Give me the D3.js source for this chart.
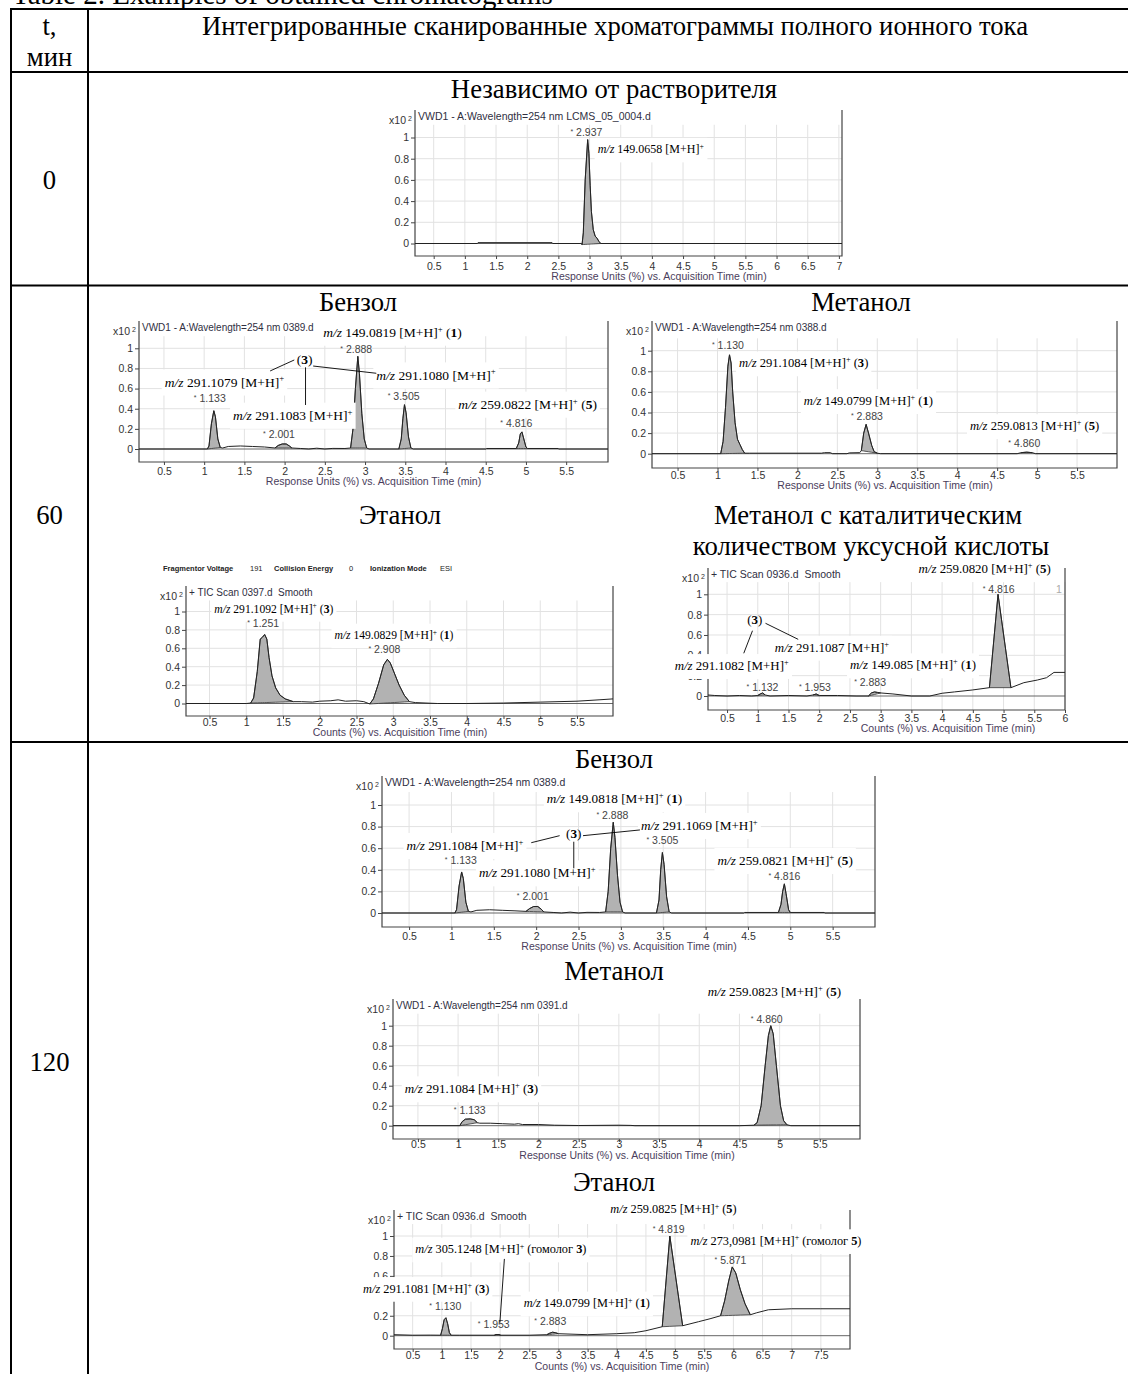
<!DOCTYPE html>
<html><head><meta charset="utf-8">
<script src="https://cdn.jsdelivr.net/npm/d3@7"></script>
<style>body{margin:0;background:#fff;}svg{display:block;}text{white-space:pre;}</style>
</head><body>
<script>
// ---------------- DATA ----------------
const yTicks = [0, 0.2, 0.4, 0.6, 0.8, 1];
const xTicks7 = [0.5,1,1.5,2,2.5,3,3.5,4,4.5,5,5.5,6,6.5,7];
const xTicks55 = [0.5,1,1.5,2,2.5,3,3.5,4,4.5,5,5.5];
const xTicks6 = [0.5,1,1.5,2,2.5,3,3.5,4,4.5,5,5.5,6];
const xTicks75 = [0.5,1,1.5,2,2.5,3,3.5,4,4.5,5,5.5,6,6.5,7,7.5];

const rowLabels = ["0", "60", "120"];
const headerLabels = ["t,", "мин", "Интегрированные сканированные хроматограммы полного ионного тока"];

// Row 0 — independent of solvent
const traceA = [[0.2,0],[1.2,0],[1.21,0.008],[2.4,0.008],[2.41,0],[2.86,0],[2.88,-0.01],[2.9,0.1],[2.93,0.6],[2.97,0.98],[2.99,0.85],[3.01,0.55],[3.03,0.3],[3.06,0.13],[3.09,0.07],[3.12,0.05],[3.15,0.02],[3.18,0],[7.05,0]];
const peaksA = [[2.88,3.18]];
const peakLabelsA = [{text:"2.937", t:2.95, v:1.014}];
const notesA = [{mz:"149.0658", t:3.13, v:0.85}];

// Row 60 — benzene
const traceB = [[0.19,0],[1.04,0],[1.06,0.03],[1.09,0.25],[1.12,0.38],[1.14,0.32],[1.17,0.1],[1.2,0.015],[1.23,0.01],[1.3,0.025],[1.45,0.03],[1.6,0.025],[1.75,0.02],[1.88,0.01],[1.92,0.035],[1.97,0.05],[2.02,0.05],[2.06,0.03],[2.09,0.01],[2.2,0.005],[2.3,0],[2.4,0.008],[2.5,0],[2.6,0.006],[2.75,0.005],[2.82,0.01],[2.85,0.2],[2.88,0.6],[2.91,0.92],[2.93,0.75],[2.96,0.35],[2.99,0.1],[3.02,0.01],[3.05,0],[3.42,0],[3.45,0.1],[3.47,0.3],[3.49,0.44],[3.51,0.36],[3.54,0.12],[3.57,0.01],[3.6,0],[4.5,0],[4.51,0.005],[4.88,0.005],[4.91,0.06],[4.93,0.15],[4.95,0.17],[4.97,0.11],[5.0,0.02],[5.02,0.005],[5.4,0.005],[5.41,0],[6.02,0]];
const peaksB = [[1.04,1.2],[1.88,2.09],[2.82,3.02],[3.42,3.57],[4.88,5.02]];
const peakLabelsB = [{text:"1.133",t:1.07,v:0.47},{text:"2.001",t:1.93,v:0.106},{text:"2.888",t:2.89,v:0.95},{text:"3.505",t:3.48,v:0.487},{text:"4.816",t:4.88,v:0.215}];
const notesB = [{mz:"149.0819",id:"1",t:2.48,v:1.115},{id:"3",t:2.25,v:0.844,mid:true},{mz:"291.1079",t:0.51,v:0.62},{mz:"291.1080",t:3.14,v:0.69},{mz:"291.1083",t:1.36,v:0.29},{mz:"259.0822",id:"5",t:4.16,v:0.40}];
const leadersB = [[[2.12,0.884],[1.82,0.775]],[[2.355,0.824],[3.14,0.752]],[[2.26,0.811],[2.26,0.437]]];

// Row 60 — methanol
const traceC = [[0.18,0],[1.04,0],[1.07,0.12],[1.1,0.45],[1.13,0.85],[1.15,0.96],[1.17,0.88],[1.19,0.6],[1.22,0.3],[1.25,0.14],[1.28,0.09],[1.31,0.04],[1.34,0.005],[1.4,0.005],[2.3,0.005],[2.34,0.01],[2.41,0.01],[2.44,0],[2.62,0],[2.65,0.008],[2.78,0.01],[2.8,0.03],[2.83,0.2],[2.86,0.285],[2.89,0.2],[2.93,0.08],[2.96,0.02],[3.0,0.005],[3.04,0],[4.75,0],[4.8,0.01],[4.87,0.015],[4.94,0.01],[4.98,0],[6.0,0]];
const peaksC = [[1.04,1.34],[2.8,3.0],[4.8,4.94]];
const peakLabelsC = [{text:"1.130",t:1.13,v:1.017},{text:"2.883",t:2.87,v:0.327},{text:"4.860",t:4.84,v:0.062}];
const notesC = [{mz:"291.1084",id:"3",t:1.27,v:0.839},{mz:"149.0799",id:"1",t:2.08,v:0.473},{mz:"259.0813",id:"5",t:4.16,v:0.23}];

// Row 60 — ethanol
const traceD = [[0.18,0],[1.0,0],[1.06,0.005],[1.1,0.06],[1.15,0.35],[1.19,0.7],[1.22,0.72],[1.25,0.75],[1.28,0.7],[1.31,0.5],[1.35,0.3],[1.4,0.17],[1.46,0.09],[1.53,0.05],[1.64,0.02],[1.75,0.02],[1.9,0.015],[2.0,0.025],[2.15,0.03],[2.25,0.04],[2.35,0.025],[2.5,0.03],[2.6,0.02],[2.68,-0.005],[2.73,0.05],[2.8,0.22],[2.87,0.42],[2.92,0.48],[2.96,0.44],[3.02,0.32],[3.08,0.2],[3.15,0.09],[3.22,0.02],[3.3,0.01],[3.6,0],[4.0,0],[4.5,0.005],[5.0,0.015],[5.5,0.025],[5.8,0.04],[5.99,0.05]];
const peaksD = [[1.06,1.64],[2.68,3.22]];
const peakLabelsD = [{text:"1.251",t:1.23,v:0.835},{text:"2.908",t:2.88,v:0.545}];
const notesD = [{mz:"291.1092",id:"3",t:0.565,v:0.987},{mz:"149.0829",id:"1",t:2.2,v:0.7}];
const methodD = [["Fragmentor Voltage",true],["191",false],["Collision Energy",true],["0",false],["Ionization Mode",true],["ESI",false]];

// Row 60 — methanol + acetic acid
const traceE = [[0.19,0.01],[0.3,0.005],[0.5,0],[0.7,0.005],[0.9,0],[1.0,0.005],[1.04,0.02],[1.08,0.03],[1.12,0.01],[1.2,0],[1.5,0.005],[1.8,0],[1.9,0.01],[1.95,0.02],[2.0,0.005],[2.3,0.005],[2.6,0],[2.8,0],[2.85,0.03],[2.9,0.04],[2.95,0.035],[3.0,0.03],[3.2,0.02],[3.5,0],[3.8,0],[4.0,0.027],[4.2,0.04],[4.49,0.059],[4.77,0.082],[4.91,1.0],[5.12,0.082],[5.33,0.131],[5.55,0.157],[5.7,0.18],[5.82,0.232],[6.0,0.232]];
const peaksE = [[1.0,1.12],[1.9,2.0],[2.8,3.0],[4.77,5.12]];
const peakLabelsE = [{text:"4.816",t:4.92,v:1.016},{text:"1.132",t:1.077,v:0.052},{text:"1.953",t:1.93,v:0.052},{text:"2.883",t:2.828,v:0.098}];
const notesE = [{mz:"259.0820",id:"5",t:3.616,v:1.21},{id:"3",t:0.952,v:0.708,mid:true},{mz:"291.1087",t:1.278,v:0.436},{mz:"291.1082",t:-0.353,v:0.256},{mz:"149.085",id:"1",t:2.502,v:0.263}];
const leadersE = [[[1.126,0.715],[1.658,0.557]],[[0.914,0.642],[0.772,0.42]]];
const markE = [{text:"1",t:5.9,v:1.016}];

// Row 120 — benzene
const traceF = [[0.18,0],[1.04,0],[1.06,0.03],[1.09,0.25],[1.12,0.38],[1.14,0.32],[1.17,0.1],[1.2,0.015],[1.23,0.01],[1.3,0.025],[1.45,0.03],[1.6,0.025],[1.75,0.02],[1.88,0.015],[1.92,0.04],[1.97,0.06],[2.02,0.06],[2.06,0.035],[2.09,0.01],[2.2,0.005],[2.3,0],[2.4,0.008],[2.5,0],[2.6,0.006],[2.75,0.005],[2.82,0.01],[2.85,0.2],[2.88,0.6],[2.91,0.84],[2.93,0.7],[2.96,0.35],[2.99,0.1],[3.02,0.01],[3.05,0],[3.42,0],[3.45,0.12],[3.47,0.4],[3.49,0.56],[3.51,0.45],[3.54,0.15],[3.57,0.01],[3.6,0],[4.45,0],[4.46,0.005],[4.86,0.005],[4.89,0.08],[4.91,0.2],[4.93,0.27],[4.95,0.18],[4.98,0.03],[5.0,0.005],[5.4,0.005],[5.41,0],[6.0,0]];
const peaksF = [[1.04,1.2],[1.88,2.09],[2.82,3.02],[3.42,3.57],[4.86,5.0]];
const peakLabelsF = [{text:"1.133",t:1.11,v:0.454},{text:"2.001",t:1.96,v:0.12},{text:"2.888",t:2.9,v:0.87},{text:"3.505",t:3.49,v:0.636},{text:"4.816",t:4.93,v:0.305}];
const notesF = [{mz:"149.0818",id:"1",t:2.126,v:1.016},{mz:"291.1069",t:3.237,v:0.769},{id:"3",t:2.444,v:0.697,mid:true},{mz:"291.1084",t:0.47,v:0.583},{mz:"259.0821",id:"5",t:4.14,v:0.444},{mz:"291.1080",t:1.324,v:0.33}];
const leadersF = [[[2.277,0.716],[1.942,0.651]],[[2.553,0.716],[3.225,0.769]],[[2.444,0.66],[2.444,0.414]]];

// Row 120 — methanol
const traceG = [[0.19,0],[1.02,0],[1.05,0.04],[1.09,0.065],[1.15,0.068],[1.2,0.06],[1.24,0.03],[1.27,0.025],[1.4,0.025],[1.55,0.02],[1.7,0.015],[1.75,0.02],[1.8,0.012],[2.0,0.012],[2.2,0.005],[2.5,0.002],[3.0,0.005],[3.15,0.003],[3.2,0],[4.5,0],[4.68,0.005],[4.72,0.03],[4.77,0.2],[4.82,0.6],[4.86,0.9],[4.89,1.0],[4.92,0.92],[4.96,0.6],[5.01,0.2],[5.05,0.05],[5.09,0.01],[5.14,0],[6.0,0]];
const peaksG = [[1.02,1.24],[4.68,5.09]];
const peakLabelsG = [{text:"4.860",t:4.84,v:1.03},{text:"1.133",t:1.145,v:0.117}];
const notesG = [{mz:"259.0823",id:"5",t:4.105,v:1.297},{mz:"291.1084",id:"3",t:0.336,v:0.324}];

// Row 120 — ethanol
const traceH = [[0.18,0.01],[0.5,0.005],[0.8,0.006],[0.98,0.005],[1.01,0.07],[1.04,0.16],[1.07,0.18],[1.1,0.12],[1.13,0.03],[1.16,0.005],[1.3,0.005],[1.9,0.005],[1.93,0.012],[1.98,0.012],[2.01,0.005],[2.5,0.005],[2.8,0.01],[2.85,0.025],[2.9,0.035],[2.95,0.03],[3.0,0.02],[3.5,0.01],[4.0,0.02],[4.3,0.03],[4.5,0.05],[4.78,0.09],[4.91,1.0],[5.13,0.1],[5.4,0.14],[5.6,0.17],[5.78,0.2],[5.85,0.35],[5.92,0.55],[5.98,0.69],[6.04,0.63],[6.12,0.46],[6.2,0.32],[6.29,0.21],[6.4,0.23],[6.6,0.26],[7.0,0.27],[7.5,0.27],[8.0,0.27]];
const peaksH = [[0.98,1.16],[1.9,2.01],[2.8,3.0],[4.78,5.13],[5.78,6.29]];
const peakLabelsH = [{text:"4.819",t:4.89,v:1.027},{text:"5.871",t:5.95,v:0.716},{text:"1.130",t:1.06,v:0.258},{text:"1.953",t:1.89,v:0.074},{text:"2.883",t:2.86,v:0.107}];
const notesH = [{mz:"259.0825",id:"5",t:3.89,v:1.228},{mz:"273,0981",id:"5",hom:true,t:5.263,v:0.91},{mz:"305.1248",id:"3",hom:true,t:0.546,v:0.826},{mz:"291.1081",id:"3",t:-0.35,v:0.431},{mz:"149.0799",id:"1",t:2.404,v:0.285}];
const leadersH = [[[2.073,0.77],[1.996,0.132]]];

// ---------------- LAYOUT / STYLE ----------------
const SERIF = "'Liberation Serif','Times New Roman',serif";
const SANS = "'Liberation Sans',Arial,sans-serif";
const RESP = "Response Units (%) vs. Acquisition Time (min)";
const COUNTS = "Counts (%) vs. Acquisition Time (min)";
const TITLE_FS = 26.7;

const panels = [
 {left:415,right:842,top:110,bottom:256,xd:[0.2,7.05],y0:243.5,y1:137.5,tickBase:269.5,titleBase:280,titleCx:659,fs:12,hfs:10.5,xTicks:xTicks7,header:"VWD1 - A:Wavelength=254 nm LCMS_05_0004.d",axisTitle:RESP,trace:traceA,peaks:peaksA,peakLabels:peakLabelsA,notes:notesA},
 {left:139,right:608,top:321,bottom:462,xd:[0.19,6.02],y0:449,y1:348.3,tickBase:475,titleBase:485,titleCx:373.5,fs:13.5,hfs:10,xTicks:xTicks55,header:"VWD1 - A:Wavelength=254 nm 0389.d",axisTitle:RESP,trace:traceB,peaks:peaksB,peakLabels:peakLabelsB,notes:notesB,leaders:leadersB},
 {left:652,right:1117,top:321,bottom:468,xd:[0.18,6.0],y0:453.7,y1:350.7,tickBase:479,titleBase:489,titleCx:885,fs:12.6,hfs:10,xTicks:xTicks55,header:"VWD1 - A:Wavelength=254 nm 0388.d",axisTitle:RESP,trace:traceC,peaks:peaksC,peakLabels:peakLabelsC,notes:notesC},
 {left:186,right:613,top:586,bottom:716,xd:[0.18,5.99],y0:703.5,y1:611.5,tickBase:726,titleBase:736,titleCx:400,fs:11.6,hfs:10,xTicks:xTicks55,header:"+ TIC Scan 0397.d  Smooth",axisTitle:COUNTS,trace:traceD,peaks:peaksD,peakLabels:peakLabelsD,notes:notesD},
 {left:708,right:1065,top:568,bottom:710,xd:[0.19,6.0],y0:696,y1:594.3,tickBase:722,titleBase:732,titleCx:948,fs:12.9,hfs:10.5,xTicks:xTicks6,header:"+ TIC Scan 0936.d  Smooth",axisTitle:COUNTS,trace:traceE,peaks:peaksE,peakLabels:peakLabelsE,notes:notesE,leaders:leadersE,marks:markE},
 {left:382,right:875,top:776,bottom:927,xd:[0.18,6.0],y0:913,y1:805,tickBase:940,titleBase:950,titleCx:629,fs:13.2,hfs:10.5,xTicks:xTicks55,header:"VWD1 - A:Wavelength=254 nm 0389.d",axisTitle:RESP,trace:traceF,peaks:peaksF,peakLabels:peakLabelsF,notes:notesF,leaders:leadersF},
 {left:393,right:860,top:999,bottom:1139,xd:[0.19,6.0],y0:1125.7,y1:1025.7,tickBase:1148,titleBase:1158.5,titleCx:627,fs:13,hfs:10,xTicks:xTicks55,header:"VWD1 - A:Wavelength=254 nm 0391.d",axisTitle:RESP,trace:traceG,peaks:peaksG,peakLabels:peakLabelsG,notes:notesG},
 {left:394,right:850,top:1210,bottom:1349,xd:[0.18,8.0],y0:1335.7,y1:1236,tickBase:1359,titleBase:1370,titleCx:622,fs:12.3,hfs:10.5,xTicks:xTicks75,header:"+ TIC Scan 0936.d  Smooth",axisTitle:COUNTS,trace:traceH,peaks:peaksH,peakLabels:peakLabelsH,notes:notesH,leaders:leadersH}
];

const W = 1128, H = 1374;
const svg = d3.select("body").append("svg").attr("width", W).attr("height", H);
svg.append("rect").attr("width", W).attr("height", H).attr("fill", "#fff");

// ---------------- TABLE ----------------
const tbl = svg.append("g");
tbl.append("text").attr("x", 12).attr("y", 4).attr("font-family", SERIF).attr("font-size", 29)
  .text("Table 2. Examples of obtained chromatograms");
[[10,9,1128,9],[10,72,1128,72],[10,285.5,1128,285.5],[10,742,1128,742],[11,8,11,1374],[88,9,88,1374]].forEach(l => {
  tbl.append("line").attr("x1", l[0]).attr("y1", l[1]).attr("x2", l[2]).attr("y2", l[3]).attr("stroke", "#000").attr("stroke-width", 2);
});
const serifText = (x, y, s, anchor="middle") => tbl.append("text").attr("x", x).attr("y", y).attr("text-anchor", anchor)
  .attr("font-family", SERIF).attr("font-size", TITLE_FS).attr("fill", "#000").text(s);
serifText(49.5, 35, headerLabels[0]);
serifText(49.5, 66, headerLabels[1]);
serifText(615, 35, headerLabels[2]);
serifText(49.5, 189, rowLabels[0]);
serifText(49.5, 524, rowLabels[1]);
serifText(49.5, 1071, rowLabels[2]);
serifText(614, 98, "Независимо от растворителя");
serifText(358, 311, "Бензол");
serifText(861, 311, "Метанол");
serifText(400, 524, "Этанол");
serifText(868, 524, "Метанол с каталитическим");
serifText(871, 555, "количеством уксусной кислоты");
serifText(614, 768, "Бензол");
serifText(614, 980, "Метанол");
serifText(614, 1191, "Этанол");

// ---------------- PANELS ----------------
function interp(trace, t) {
  const i = d3.bisector(d => d[0]).left(trace, t);
  if (i <= 0) return trace[0][1];
  if (i >= trace.length) return trace[trace.length-1][1];
  const a = trace[i-1], b = trace[i];
  if (b[0] === t) return b[1];
  return a[1] + (b[1]-a[1]) * (t-a[0]) / (b[0]-a[0]);
}

function drawPanel(p) {
  const g = svg.append("g");
  const x = d3.scaleLinear().domain(p.xd).range([p.left, p.right]);
  const y = d3.scaleLinear().domain([0, 1]).range([p.y0, p.y1]);

  // grid
  g.append("g").selectAll("line").data(p.xTicks).join("line")
    .attr("x1", d => x(d)).attr("x2", d => x(d)).attr("y1", y(1.12)).attr("y2", p.bottom)
    .attr("stroke", "#e2e2e2").attr("stroke-width", 1);
  g.append("g").selectAll("line").data(yTicks.filter(d => d > 0)).join("line")
    .attr("x1", p.left).attr("x2", p.right).attr("y1", d => y(d)).attr("y2", d => y(d))
    .attr("stroke", "#e2e2e2").attr("stroke-width", 1);
  g.append("line").attr("x1", p.left).attr("x2", p.right).attr("y1", y(0)).attr("y2", y(0))
    .attr("stroke", "#666").attr("stroke-width", 1);

  // axes
  const ya = d3.axisLeft(y).tickValues(yTicks).tickSize(4).tickPadding(2)
    .tickFormat(d => d === 0 ? "0" : d === 1 ? "1" : d3.format(".1f")(d));
  const yg = g.append("g").attr("transform", `translate(${p.left},0)`).call(ya);
  yg.select(".domain").remove();
  yg.selectAll("line").attr("stroke", "#444");
  yg.selectAll("text").attr("font-family", SANS).attr("font-size", 10.5).attr("fill", "#333");

  const xa = d3.axisBottom(x).tickValues(p.xTicks).tickSize(3).tickFormat(d3.format("~g"));
  const xg = g.append("g").attr("transform", `translate(0,${p.bottom})`).call(xa);
  xg.select(".domain").remove();
  xg.selectAll("line").attr("stroke", "#444");
  xg.selectAll("text").attr("font-family", SANS).attr("font-size", 10.5).attr("fill", "#333")
    .attr("y", p.tickBase - p.bottom).attr("dy", 0);

  // frame
  g.append("path").attr("d", `M${p.left},${p.top}V${p.bottom}H${p.right}V${p.top}`)
    .attr("fill", "none").attr("stroke", "#444").attr("stroke-width", 1.2);

  // labels around
  g.append("text").attr("x", p.left + 3).attr("y", p.top + 10).attr("font-family", SANS)
    .attr("font-size", p.hfs).attr("fill", "#2f2f3f").text(p.header);
  g.append("text").attr("x", p.left - 9).attr("y", p.top + 14).attr("text-anchor", "end")
    .attr("font-family", SANS).attr("font-size", 10.5).attr("fill", "#333").text("x10");
  g.append("text").attr("x", p.left - 7).attr("y", p.top + 11).attr("font-family", SANS)
    .attr("font-size", 7).attr("fill", "#333").text("2");
  g.append("text").attr("x", p.titleCx).attr("y", p.titleBase).attr("text-anchor", "middle")
    .attr("font-family", SANS).attr("font-size", 10.5).attr("fill", "#4a3d5c").text(p.axisTitle);

  // integrated peaks
  p.peaks.forEach(([s, e]) => {
    const v0 = interp(p.trace, s), v1 = interp(p.trace, e);
    const base = t => v0 + (v1 - v0) * (t - s) / (e - s);
    const pts = [[s, v0]].concat(p.trace.filter(d => d[0] > s && d[0] < e), [[e, v1]]);
    const area = d3.area().x(d => x(d[0])).y0(d => y(base(d[0]))).y1(d => y(d[1]));
    g.append("path").attr("d", area(pts)).attr("fill", "#b2b2b2").attr("stroke", "#333").attr("stroke-width", 0.8);
  });

  // trace
  const line = d3.line().x(d => x(d[0])).y(d => y(d[1]));
  g.append("path").attr("d", line(p.trace)).attr("fill", "none").attr("stroke", "#222").attr("stroke-width", 1);

  // annotation boxes + texts
  const boxG = g.append("g");
  const noteG = g.append("g");
  const fs = p.fs;
  p.notes.forEach(n => {
    const t = noteG.append("text").attr("x", x(n.t)).attr("y", y(n.v)).attr("font-family", SERIF)
      .attr("font-size", fs).attr("fill", "#000");
    if (n.mid) t.attr("text-anchor", "middle");
    if (n.mz) {
      t.append("tspan").attr("font-style", "italic").text("m/z");
      t.append("tspan").text("\u00a0" + n.mz + " [M+H]");
      t.append("tspan").attr("font-size", fs * 0.65).attr("dy", -fs * 0.38).text("+");
      if (n.id) {
        t.append("tspan").attr("dy", fs * 0.38).text(n.hom ? " (гомолог " : " (");
        t.append("tspan").attr("font-weight", "bold").text(n.id);
        t.append("tspan").text(")");
      }
    } else {
      t.append("tspan").text("(");
      t.append("tspan").attr("font-weight", "bold").text(n.id);
      t.append("tspan").text(")");
    }
    const bb = t.node().getBBox();
    if (n.mz) {
      boxG.append("rect").attr("x", bb.x - 3).attr("y", bb.y - 4).attr("width", bb.width + 6)
        .attr("height", bb.height + 10).attr("fill", "#fff");
    }
  });

  // peak labels
  p.peakLabels.forEach(d => {
    const t = g.append("text").attr("x", x(d.t)).attr("y", y(d.v)).attr("text-anchor", "middle")
      .attr("font-family", SANS).attr("font-size", 10.5).attr("fill", "#444");
    t.append("tspan").attr("font-size", 7).attr("dy", -2).text("*");
    t.append("tspan").attr("dy", 2).text("\u00a0" + d.text);
  });
  (p.marks || []).forEach(d => {
    g.append("text").attr("x", x(d.t)).attr("y", y(d.v)).attr("text-anchor", "middle")
      .attr("font-family", SANS).attr("font-size", 10.5).attr("fill", "#aaa").text(d.text);
  });
  noteG.raise();

  // leader lines
  (p.leaders || []).forEach(l => {
    g.append("line").attr("x1", x(l[0][0])).attr("y1", y(l[0][1])).attr("x2", x(l[1][0])).attr("y2", y(l[1][1]))
      .attr("stroke", "#000").attr("stroke-width", 0.9);
  });
}
panels.forEach(drawPanel);

// method line above ethanol (row 60)
const mG = svg.append("g");
const mXs = [163, 250, 274, 349, 370, 440];
methodD.forEach((m, i) => {
  mG.append("text").attr("x", mXs[i]).attr("y", 571).attr("font-family", SANS).attr("font-size", 7.5)
    .attr("font-weight", m[1] ? "bold" : "normal").attr("fill", "#222").text(m[0]);
});
</script>
</body></html>
